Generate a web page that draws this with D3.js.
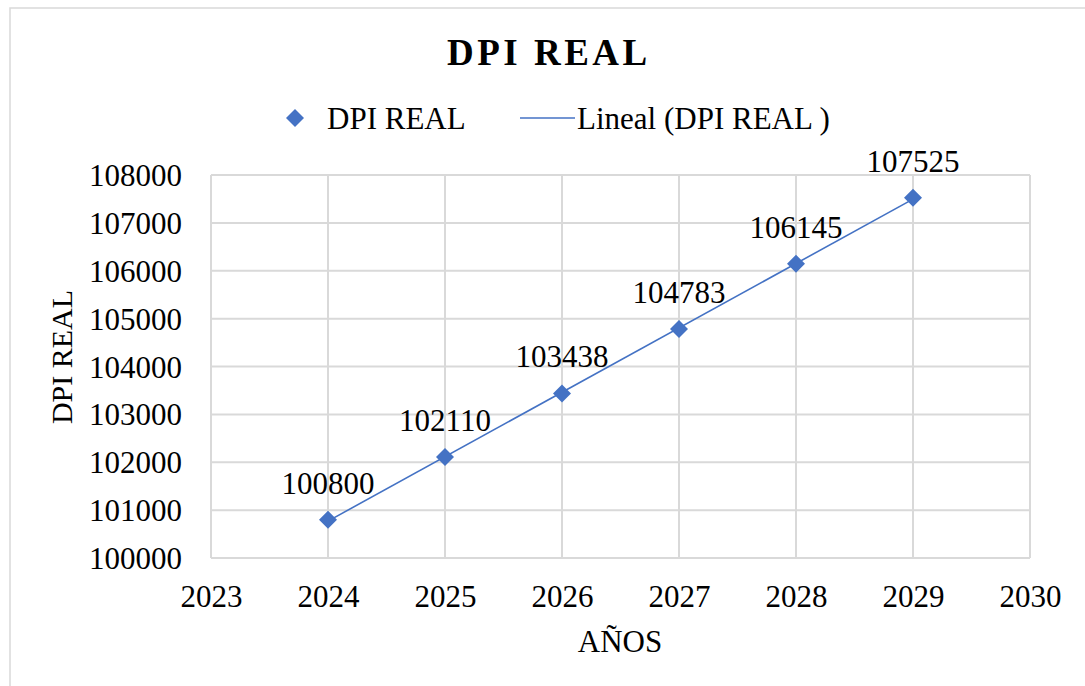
<!DOCTYPE html>
<html>
<head>
<meta charset="utf-8">
<script src="https://cdn.jsdelivr.net/npm/d3@7"></script>
<style>
  body { margin: 0; background: #fff; }
  text { font-family: "Liberation Serif", "Times New Roman", serif; fill: #000; }
</style>
</head>
<body>
<svg width="1085" height="686"></svg>
<script>
var years = [2024, 2025, 2026, 2027, 2028, 2029];
var dpiReal = [100800, 102110, 103438, 104783, 106145, 107525];
var xTicks = [2023, 2024, 2025, 2026, 2027, 2028, 2029, 2030];
var yTicks = [100000, 101000, 102000, 103000, 104000, 105000, 106000, 107000, 108000];

var svg = d3.select("svg");
var blue = "#4472C4";
var grid = "#d9d9d9";

// outer chart border
svg.append("rect")
  .attr("x", 10).attr("y", 8)
  .attr("width", 1100).attr("height", 700)
  .attr("fill", "none").attr("stroke", grid).attr("stroke-width", 1.5);

var xScale = d3.scaleLinear().domain([2023, 2030]).range([211, 1030]);
var yScale = d3.scaleLinear().domain([100000, 108000]).range([558, 175]);

// gridlines
svg.append("g").selectAll("line")
  .data(yTicks)
  .enter().append("line")
  .attr("x1", xScale(2023)).attr("x2", xScale(2030))
  .attr("y1", function(d) { return yScale(d); })
  .attr("y2", function(d) { return yScale(d); })
  .attr("stroke", grid).attr("stroke-width", 2);

svg.append("g").selectAll("line")
  .data(xTicks)
  .enter().append("line")
  .attr("y1", yScale(100000)).attr("y2", yScale(108000))
  .attr("x1", function(d) { return xScale(d); })
  .attr("x2", function(d) { return xScale(d); })
  .attr("stroke", grid).attr("stroke-width", 2);

// axis labels
var yAxis = svg.append("g")
  .attr("transform", "translate(" + xScale(2023) + ",0)")
  .attr("font-family", null)
  .call(d3.axisLeft(yScale).tickValues(yTicks).tickFormat(d3.format("d")).tickSize(0).tickPadding(29));
yAxis.attr("font-family", "Liberation Serif").attr("font-size", 31);
yAxis.select(".domain").remove();
yAxis.selectAll("text")
  .style("font-family", "Liberation Serif").style("font-size", "31px").attr("fill", "#000")
  .attr("dy", "0.34em");

var xAxis = svg.append("g")
  .attr("transform", "translate(0," + yScale(100000) + ")")
  .call(d3.axisBottom(xScale).tickValues(xTicks).tickFormat(d3.format("d")).tickSize(0).tickPadding(27));
xAxis.attr("font-family", "Liberation Serif").attr("font-size", 31);
xAxis.select(".domain").remove();
xAxis.selectAll("text")
  .style("font-family", "Liberation Serif").style("font-size", "31px").attr("fill", "#000")
  .attr("dy", "0.71em");

// trend line (least squares)
var mx = d3.mean(years), my = d3.mean(dpiReal);
var sxy = d3.sum(years, function(d, i) { return (d - mx) * (dpiReal[i] - my); });
var sxx = d3.sum(years, function(d) { return (d - mx) * (d - mx); });
var slope = sxy / sxx;
var icpt = my - slope * mx;
var x0 = d3.min(years), x1 = d3.max(years);

svg.append("line")
  .attr("x1", xScale(x0)).attr("y1", yScale(icpt + slope * x0))
  .attr("x2", xScale(x1)).attr("y2", yScale(icpt + slope * x1))
  .attr("stroke", blue).attr("stroke-width", 1.6);

// markers
var diamond = d3.symbol().type(d3.symbolSquare).size(162);
svg.append("g").selectAll("path")
  .data(years)
  .enter().append("path")
  .attr("d", diamond)
  .attr("transform", function(d, i) {
    return "translate(" + xScale(d) + "," + yScale(dpiReal[i]) + ") rotate(45)";
  })
  .attr("fill", blue);

// data labels
svg.append("g").selectAll("text")
  .data(years)
  .enter().append("text")
  .attr("x", function(d) { return xScale(d); })
  .attr("y", function(d, i) { return yScale(dpiReal[i]) - 26; })
  .attr("text-anchor", "middle")
  .style("font-size", "31px")
  .text(function(d, i) { return dpiReal[i]; });

// title
svg.append("text")
  .attr("x", 447).attr("y", 65)
  .style("font-size", "37px").style("font-weight", "bold").style("letter-spacing", "3.5px")
  .text("DPI REAL");

// legend
svg.append("path")
  .attr("d", diamond)
  .attr("transform", "translate(295,118) rotate(45)")
  .attr("fill", blue);
svg.append("text")
  .attr("x", 327).attr("y", 129)
  .style("font-size", "31px")
  .text("DPI REAL");
svg.append("line")
  .attr("x1", 520).attr("x2", 575).attr("y1", 118).attr("y2", 118)
  .attr("stroke", blue).attr("stroke-width", 1.6);
svg.append("text")
  .attr("x", 577).attr("y", 129)
  .style("font-size", "31px")
  .text("Lineal (DPI REAL )");

// axis titles
svg.append("text")
  .attr("x", 620).attr("y", 652)
  .attr("text-anchor", "middle")
  .style("font-size", "31px")
  .text("AÑOS");

svg.append("text")
  .attr("transform", "translate(72,357) rotate(-90)")
  .attr("text-anchor", "middle")
  .style("font-size", "30px")
  .text("DPI REAL");
</script>
</body>
</html>
